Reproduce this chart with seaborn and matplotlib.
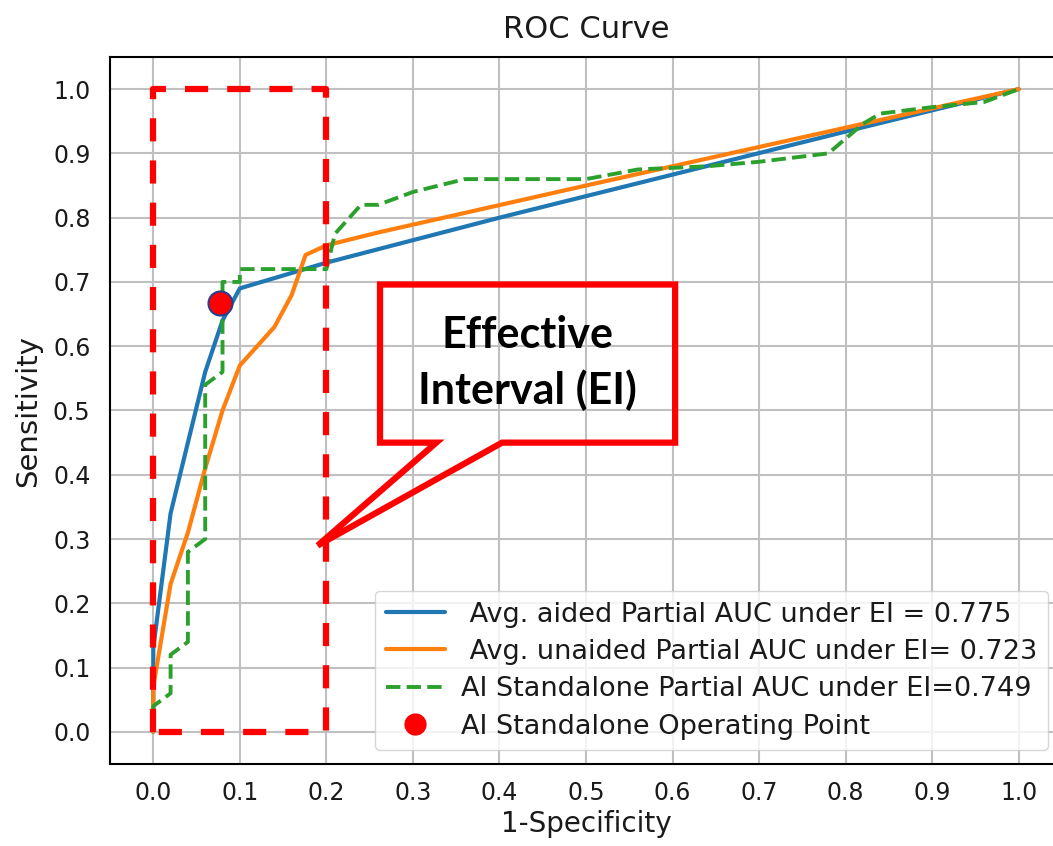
import matplotlib
matplotlib.use("Agg")
import matplotlib.pyplot as plt
import seaborn as sns
import numpy as np
import pandas as pd
from matplotlib.lines import Line2D
from matplotlib.patches import Polygon

# ---- data ----
aided_fpr = [0.0, 0.0, 0.02, 0.06, 0.08, 0.10, 0.20, 0.40, 0.60, 0.80, 1.0]
aided_tpr = [0.0, 0.13, 0.34, 0.56, 0.64, 0.69, 0.73, 0.80, 0.867, 0.934, 1.0]

unaided_fpr = [0.0, 0.0, 0.02, 0.04, 0.06, 0.08, 0.10, 0.12, 0.14, 0.16, 0.176, 0.20, 0.26, 0.50, 0.80, 1.0]
unaided_tpr = [0.0, 0.07, 0.23, 0.31, 0.41, 0.50, 0.57, 0.60, 0.63, 0.68, 0.742, 0.757, 0.777, 0.85, 0.94, 1.0]

ai_fpr = [0.0, 0.0, 0.02, 0.02, 0.04, 0.04, 0.06, 0.06, 0.08, 0.08, 0.10, 0.10, 0.20, 0.21, 0.24,
          0.26, 0.30, 0.36, 0.50, 0.56, 0.64, 0.70, 0.78, 0.80, 0.82, 0.84, 0.90, 0.96, 1.0]
ai_tpr = [0.0, 0.04, 0.06, 0.12, 0.14, 0.28, 0.30, 0.54, 0.56, 0.70, 0.70, 0.72, 0.72, 0.775, 0.82,
          0.82, 0.84, 0.86, 0.86, 0.875, 0.88, 0.887, 0.90, 0.923, 0.946, 0.962, 0.972, 0.98, 1.0]

op_fpr = [0.077]
op_tpr = [0.667]

labels = [" Avg. aided Partial AUC under EI = 0.775",
          " Avg. unaided Partial AUC under EI= 0.723",
          "AI Standalone Partial AUC under EI=0.749",
          "AI Standalone Operating Point"]

ei_box_x = [0.0, 0.0, 0.2, 0.2, 0.0]
ei_box_y = [0.0, 1.0, 1.0, 0.0, 0.0]

callout_text = "Effective\nInterval (EI)"

ticks = np.round(np.arange(0, 1.01, 0.1), 1)

# ---- figure ----
sns.set_style("white")
plt.rcParams["font.family"] = ["DejaVu Sans"]

fig = plt.figure(figsize=(10.53, 8.46), dpi=100)
ax = fig.add_axes([110 / 1053, 82 / 846, 952 / 1053, 707 / 846])

c_blue, c_orange, c_green = "#1f77b4", "#ff7f0e", "#2ca02c"

sns.lineplot(x=aided_fpr, y=aided_tpr, ax=ax, color=c_blue, linewidth=3.0,
             sort=False, estimator=None, legend=False, zorder=3)
sns.lineplot(x=unaided_fpr, y=unaided_tpr, ax=ax, color=c_orange, linewidth=3.0,
             sort=False, estimator=None, legend=False, zorder=3)
sns.lineplot(x=ai_fpr, y=ai_tpr, ax=ax, color=c_green, linewidth=2.8, linestyle="--",
             sort=False, estimator=None, legend=False, zorder=3)

# Effective interval dashed box
ax.plot(ei_box_x, ei_box_y, color="red", linewidth=4.5, dashes=(3.7, 3.05),
        dash_capstyle="butt", zorder=4)

sns.scatterplot(x=op_fpr, y=op_tpr, ax=ax, color="red", s=300, edgecolor="#2c3e8c",
                linewidth=1.5, zorder=5, legend=False)

# callout
callout = Polygon([(0.262, 0.696), (0.603, 0.696), (0.603, 0.450), (0.403, 0.450),
                   (0.190, 0.290), (0.327, 0.450), (0.262, 0.450)],
                  closed=True, fill=False, edgecolor="red", linewidth=4.5,
                  joinstyle="miter", zorder=4)
ax.add_patch(callout)
ax.text(0.432, 0.574, callout_text, ha="center", va="center", fontsize=31,
        fontweight="bold", family=["Lato", "DejaVu Sans"], color="black",
        linespacing=1.4, zorder=6)

ax.set_xlim(-0.05, 1.05)
ax.set_ylim(-0.05, 1.05)
ax.set_xticks(ticks)
ax.set_yticks(ticks)
ax.set_xticklabels([f"{t:.1f}" for t in ticks])
ax.set_yticklabels([f"{t:.1f}" for t in ticks])
ax.tick_params(axis="both", labelsize=17, length=7, width=1.5, color="black",
               labelcolor="#1a1a1a")
ax.tick_params(axis="x", pad=5)
ax.tick_params(axis="y", pad=7)
for s in ax.spines.values():
    s.set_linewidth(1.5)
    s.set_color("black")
ax.spines["right"].set_visible(False)
ax.grid(True, color="#c0c0c0", linewidth=1.5)
ax.set_axisbelow(True)

ax.set_title("ROC Curve", fontsize=22, pad=14, color="#1a1a1a")
ax.set_xlabel("1-Specificity", fontsize=20, labelpad=4, color="#1a1a1a")
ax.set_ylabel("Sensitivity", fontsize=21, labelpad=8, color="#1a1a1a")

handles = [Line2D([], [], color=c_blue, lw=3.0),
           Line2D([], [], color=c_orange, lw=3.0),
           Line2D([], [], color=c_green, lw=2.8, ls="--"),
           Line2D([], [], color="red", marker="o", ls="none", markersize=16,
                  markeredgewidth=0)]
leg = ax.legend(handles, labels, loc="lower right", fontsize=19.5, handlelength=2.2,
                handletextpad=0.6, borderpad=0.4, labelspacing=0.42, framealpha=0.8,
                edgecolor="#cccccc", fancybox=True)
for t in leg.get_texts():
    t.set_color("#1a1a1a")

fig.savefig("out.png", dpi=100)
